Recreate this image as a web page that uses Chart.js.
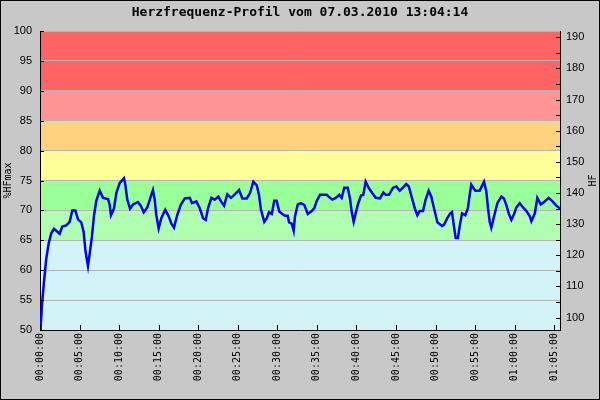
<!DOCTYPE html>
<html>
<head>
<meta charset="utf-8">
<script src="https://cdn.jsdelivr.net/npm/chart.js@4/dist/chart.umd.min.js"></script>
<style>
  html, body { margin: 0; padding: 0; background: #c8c8c8; }
</style>
</head>
<body>
<canvas id="hfChart" width="600" height="400"></canvas>
<script>
// Zeit seit Start (Sekunden) und Herzfrequenz in %HFmax
var seconds = [0,5,15,30,48,66,86,106,124,149,169,199,225,245,268,288,313,331,344,354,
  364,377,394,410,427,453,478,516,529,538,561,579,605,637,647,662,683,705,743,764,
  787,814,840,857,870,882,900,920,950,976,996,1016,1041,1067,1098,1136,1153,1186,1211,1237,
  1257,1275,1300,1325,1353,1373,1396,1421,1449,1474,1510,1535,1568,1593,1618,1644,1661,1676,1701,1720,
  1737,1758,1777,1795,1815,1838,1858,1879,1889,1909,1924,1934,1955,1980,2005,2031,2061,2081,2099,2124,
  2175,2200,2217,2243,2270,2288,2308,2334,2351,2364,2379,2394,2414,2435,2452,2470,2495,2520,2546,2579,
  2604,2622,2647,2678,2703,2728,2753,2778,2797,2822,2842,2862,2880,2905,2925,2948,2968,2988,3014,3049,
  3064,3089,3112,3125,3140,3153,3170,3183,3201,3226,3246,3259,3271,3302,3335,3368,3385,3398,3411,3423,
  3444,3469,3499,3519,3537,3555,3575,3596,3613,3639,3664,3689,3715,3727,3753,3772,3798,3828,3858,3884,
  3916,3944];
var hfPercent = [50.2,50.5,54.2,58,62,64.5,66.2,66.9,66.6,66.1,67.3,67.5,68.1,70,70,68.5,68,66.4,63.4,62,
  60.7,62.8,65.6,69.2,71.6,73.3,72.1,71.9,70.9,69.2,70.3,72.9,74.6,75.4,74.3,71.8,70.3,71,71.4,70.8,
  69.7,70.5,72.3,73.4,71.8,69.2,67,68.7,70.1,69,67.8,67.1,69.2,70.9,72,72.1,71.2,71.5,70.4,68.7,
  68.4,70.4,72.1,71.8,72.3,71.5,70.8,72.7,72.1,72.6,73.4,72,72,72.9,74.8,74.2,72.6,70.1,68.1,68.7,
  69.7,69.4,71.6,71.6,69.8,69.4,69.1,69.1,68,67.8,66.6,69,71,71.2,70.9,69.4,69.9,70.4,71.6,72.6,
  72.6,72.1,71.8,72.1,72.6,72.1,73.8,73.8,72,69.8,68.1,69.5,71.2,72.5,72.6,74.8,73.7,72.9,72.1,72,
  73,72.6,72.6,73.8,74,73.3,73.8,74.4,74,72,70.4,69.2,69.9,69.9,71.8,73.3,72.3,70.4,68,67.4,
  67.6,68.7,69.5,69.7,67.3,65.4,65.4,67.3,69.5,69.2,70.4,72.6,74.3,73.3,73.3,74.8,73.2,70.4,68.1,67.1,
  69,71.2,72.3,72,70.9,69.5,68.4,69.4,70.5,71.2,70.5,69.9,69,68.2,69.5,72.1,71,71.5,72.1,71.6,
  70.8,70.3];

var timeTicks = [0,300,600,900,1200,1500,1800,2100,2400,2700,3000,3300,3600,3900];
var percentTicks = [50,55,60,65,70,75,80,85,90,95,100];
var hfTicks = [100,110,120,130,140,150,160,170,180,190];
var hfMinorTicks = [100,105,110,115,120,125,130,135,140,145,150,155,160,165,170,175,180,185,190];
var zoneBounds = [50,65,70,75,80,85,90,100];
var zoneColors = ['#d2f4f8','#b0ffb0','#99ff99','#ffff99','#ffd280','#ff9494','#ff6464'];

function pad(n) { return (n < 10 ? '0' : '') + n; }
function hms(s) {
  return pad(Math.floor(s / 3600)) + ':' + pad(Math.floor(s % 3600 / 60)) + ':' + pad(s % 60);
}

var zonesPlugin = {
  id: 'zones',
  beforeDraw: function(chart) {
    var ctx = chart.ctx, a = chart.chartArea, y = chart.scales.y;
    ctx.save();
    ctx.fillStyle = '#c8c8c8';
    ctx.fillRect(0, 0, chart.width, chart.height);
    for (var i = 0; i < zoneColors.length; i++) {
      var top = y.getPixelForValue(zoneBounds[i + 1]);
      var bottom = y.getPixelForValue(zoneBounds[i]);
      ctx.fillStyle = zoneColors[i];
      ctx.fillRect(a.left, top, a.right - a.left, bottom - top);
    }
    ctx.restore();
  },
  afterDraw: function(chart) {
    var ctx = chart.ctx, a = chart.chartArea;
    var x = chart.scales.x, y = chart.scales.y, y1 = chart.scales.y1;
    ctx.save();
    ctx.strokeStyle = '#000';
    ctx.lineWidth = 1;
    ctx.beginPath();
    timeTicks.forEach(function(t) {
      var px = Math.round(x.getPixelForValue(t)) + 0.5;
      ctx.moveTo(px, a.bottom); ctx.lineTo(px, a.bottom - 5);
    });
    percentTicks.forEach(function(v) {
      var py = Math.round(y.getPixelForValue(v)) + 0.5;
      ctx.moveTo(a.left, py); ctx.lineTo(a.left + 4, py);
    });
    hfMinorTicks.forEach(function(v) {
      var py = Math.round(y1.getPixelForValue(v)) + 0.5;
      ctx.moveTo(a.right, py); ctx.lineTo(a.right - 4, py);
    });
    ctx.stroke();
    // rechter Achsentitel
    ctx.fillStyle = '#000';
    ctx.font = '10px "DejaVu Sans Mono"';
    ctx.textAlign = 'center';
    ctx.textBaseline = 'middle';
    ctx.translate(593, (a.top + a.bottom) / 2);
    ctx.rotate(-Math.PI / 2);
    ctx.fillText('HF', 0, 0);
    ctx.restore();
    ctx.save();
    ctx.strokeStyle = '#000';
    ctx.strokeRect(0.5, 0.5, chart.width - 1, chart.height - 1);
    ctx.restore();
  }
};

var ctx = document.getElementById('hfChart').getContext('2d');
var chart = new Chart(ctx, {
  type: 'line',
  data: {
    datasets: [{
      label: 'HF',
      data: seconds.map(function(s, i) { return { x: s, y: hfPercent[i] }; }),
      borderColor: '#0000ff',
      borderWidth: 2.5,
      pointRadius: 0,
      tension: 0,
      fill: false
    }]
  },
  options: {
    responsive: false,
    animation: false,
    layout: { padding: 0 },
    plugins: {
      legend: { display: false },
      tooltip: { enabled: false },
      title: {
        display: true,
        text: 'Herzfrequenz-Profil vom 07.03.2010 13:04:14',
        color: '#000',
        font: { family: 'DejaVu Sans Mono', size: 13, weight: 'bold' },
        padding: { top: 5, bottom: 10.4 }
      }
    },
    scales: {
      x: {
        type: 'linear',
        min: 0,
        max: 3944,
        afterBuildTicks: function(s) { s.ticks = timeTicks.map(function(v) { return { value: v }; }); },
        afterFit: function(s) { s.height = 70; },
        grid: { display: false, drawTicks: false },
        border: { display: true, color: '#000', width: 1 },
        ticks: {
          autoSkip: false,
          minRotation: 90,
          maxRotation: 90,
          padding: 3,
          color: '#000',
          font: { family: 'DejaVu Sans Mono', size: 10 },
          callback: function(v) { return hms(v); }
        }
      },
      y: {
        position: 'left',
        min: 50,
        max: 100,
        afterBuildTicks: function(s) { s.ticks = percentTicks.map(function(v) { return { value: v }; }); },
        afterFit: function(s) { s.width = 40; },
        grid: { color: '#b4b4b4', lineWidth: 1, drawTicks: false },
        border: { display: true, color: '#000', width: 1 },
        title: {
          display: true,
          text: '%HFmax',
          color: '#000',
          font: { family: 'DejaVu Sans Mono', size: 10 },
          padding: { top: 2, bottom: 0 }
        },
        ticks: {
          padding: 8,
          color: '#000',
          font: { family: 'Liberation Sans', size: 11 }
        }
      },
      y1: {
        position: 'right',
        min: 96,
        max: 192,
        afterBuildTicks: function(s) { s.ticks = hfTicks.map(function(v) { return { value: v }; }); },
        afterFit: function(s) { s.width = 40; },
        grid: { drawOnChartArea: false, drawTicks: false },
        border: { display: true, color: '#000', width: 1 },
        ticks: {
          padding: 6,
          color: '#000',
          font: { family: 'Liberation Sans', size: 11 }
        }
      }
    }
  },
  plugins: [zonesPlugin]
});
</script>
</body>
</html>
